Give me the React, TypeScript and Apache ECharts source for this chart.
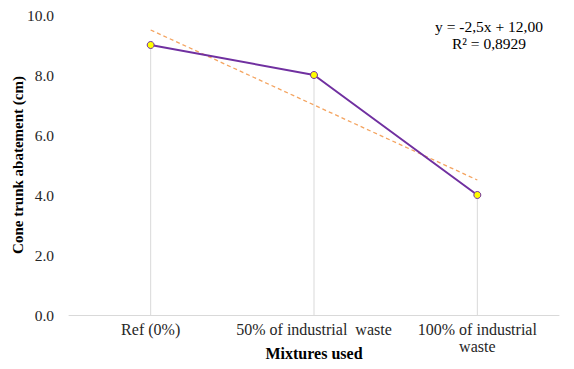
import React, { useEffect, useRef } from "react";
import * as echarts from "echarts";

const categories = ["Ref (0%)", "50% of industrial  waste", "100% of industrial\nwaste"];
const abatement = [9.0, 8.0, 4.0];
const trendValues = [9.5, 7.0, 4.5];
const yTicks = { min: 0, max: 10, interval: 2 };
const equationLines = ["y = -2,5x + 12,00", "R² = 0,8929"];

const FONT = "'Liberation Serif', 'Times New Roman', serif";

export default function App() {
  const ref = useRef<HTMLDivElement>(null);
  useEffect(() => {
    if (!ref.current) return;
    const chart = echarts.init(ref.current, undefined, { renderer: "svg" });
    chart.setOption({
      animation: false,
      backgroundColor: "#ffffff",
      textStyle: { fontFamily: FONT },
      grid: { left: 69, right: 15, top: 15, bottom: 54, containLabel: false, outerBoundsMode: "none" },
      xAxis: {
        type: "category",
        data: categories,
        boundaryGap: true,
        axisLine: { lineStyle: { color: "#d9d9d9", width: 1 } },
        axisTick: { show: false },
        axisLabel: { interval: 0, color: "#262626", fontSize: 16, fontFamily: FONT, margin: 6, lineHeight: 17 },
        name: "Mixtures used",
        nameLocation: "middle",
        nameGap: 30,
        nameMoveOverlap: false,
        nameTextStyle: { color: "#000", fontSize: 16, fontWeight: "bold", fontFamily: FONT },
      },
      yAxis: {
        type: "value",
        min: yTicks.min,
        max: yTicks.max,
        interval: yTicks.interval,
        axisLine: { show: false },
        axisTick: { show: false },
        splitLine: { show: false },
        axisLabel: {
          color: "#262626",
          fontSize: 15.5,
          fontFamily: FONT,
          margin: 15,
          formatter: (v: number) => v.toFixed(1),
        },
        name: "Cone trunk abatement (cm)",
        nameLocation: "middle",
        nameGap: 44,
        nameMoveOverlap: false,
        nameTextStyle: { color: "#000", fontSize: 15, fontWeight: "bold", fontFamily: FONT },
      },
      series: [
        {
          type: "bar",
          data: abatement,
          barWidth: 1,
          itemStyle: { color: "#d9d9d9" },
          silent: true,
          z: 1,
        },
        {
          type: "line",
          data: trendValues,
          symbol: "none",
          lineStyle: { color: "#f4a460", width: 1.3, type: [4, 3] },
          itemStyle: { color: "#ed7d31" },
          z: 2,
        },
        {
          type: "line",
          data: abatement,
          symbol: "circle",
          symbolSize: 7,
          lineStyle: { color: "#7030a0", width: 2 },
          itemStyle: { color: "#ffff00", borderColor: "#7030a0", borderWidth: 1 },
          z: 3,
        },
      ],
      graphic: [
        {
          type: "text",
          x: 489,
          y: 18,
          style: {
            text: equationLines.join("\n"),
            fill: "#000",
            fontFamily: FONT,
            fontSize: 15.5,
            align: "center",
            verticalAlign: "top",
            lineHeight: 17,
          },
        },
      ],
    });
    return () => chart.dispose();
  }, []);
  return <div ref={ref} style={{ width: 574, height: 369, position: "absolute", left: 0, top: 0 }} />;
}
